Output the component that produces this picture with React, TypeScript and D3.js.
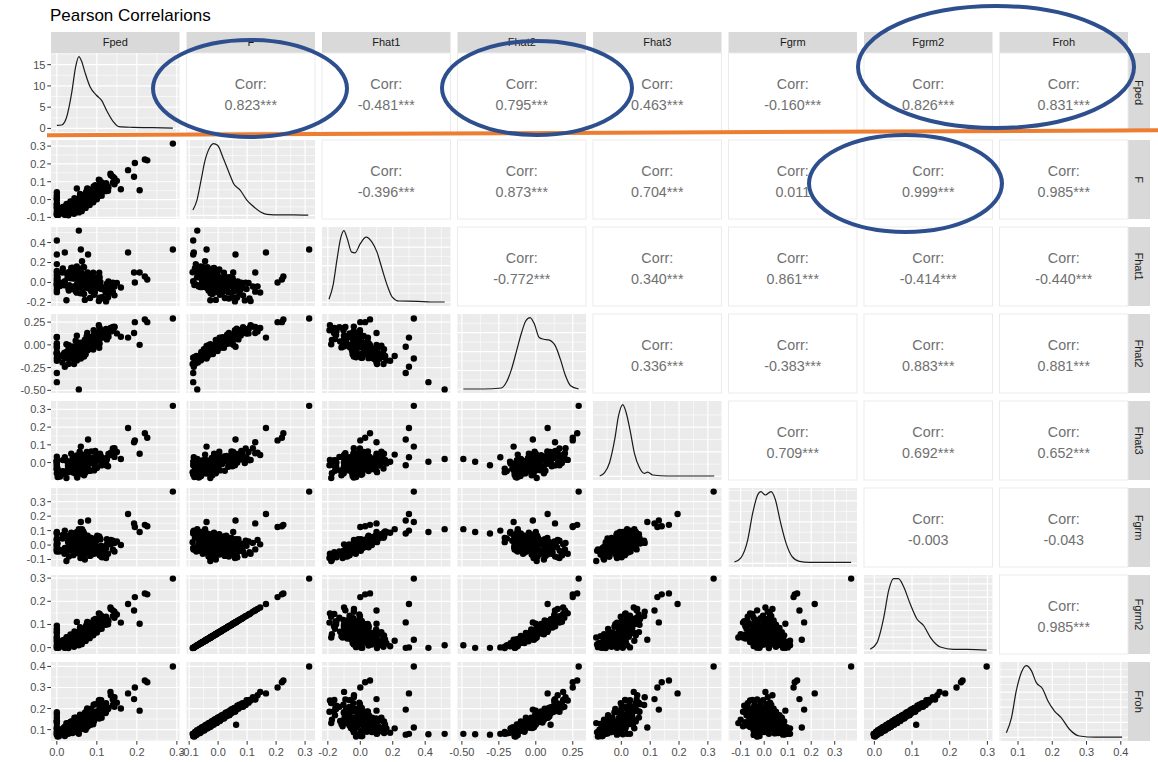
import React from 'react';
import * as d3 from 'd3';

// variables, in facet order
const vars = ['Fped', 'F', 'Fhat1', 'Fhat2', 'Fhat3', 'Fgrm', 'Fgrm2', 'Froh'];

// per-sample estimates (same sample order in every array)
const Fped = [
  0.029, 0.002, 0, 0.027, 0.014, 0.051, 0.002, 0.039, 0.050, 0.046,
  0.018, 0, 0.066, 0.042, 0.028, 0.064, 0.015, 0.051, 0.063, 0,
  0.059, 0.030, 0.077, 0.052, 0, 0.074, 0.025, 0.061, 0.072, 0.068,
  0.039, 0.085, 0.061, 0.047, 0.083, 0.034, 0.070, 0.081, 0.077, 0.048,
  0, 0.071, 0.057, 0.093, 0.044, 0.080, 0.092, 0, 0.060, 0.106,
  0.083, 0.070, 0.106, 0.058, 0.095, 0.107, 0, 0.075, 0.122, 0.099,
  0.086, 0.123, 0.076, 0.113, 0.125, 0.123, 0.096, 0.144, 0.123, 0.111,
  0.150, 0.105, 0.144, 0.140, 0.135, 0.134, 0.005, 0.063, 0.024, 0.072,
  0.29, 0.178, 0.195, 0.22, 0.226, 0.193, 0.16, 0.207, 0.055, 0, 0, 0.06, 0.078, 0.02, 0.05,
  0.020, 0.043, 0.006, 0.038, 0, 0.062, 0.008, 0.050, 0.041, 0.037,
  0.058, 0.019, 0.050, 0.031, 0.072, 0, 0.060, 0.051, 0.047, 0.068,
  0.029, 0.060, 0.041, 0.082, 0.028, 0.069, 0.059, 0.056, 0.077, 0,
  0.069, 0.050, 0.091, 0.036, 0.078, 0.069, 0.064, 0.085, 0.047, 0.078,
  0.059, 0.100, 0, 0.087, 0.079, 0.075, 0.096, 0.058, 0.089, 0.071,
  0.112, 0, 0.101, 0.093, 0.089, 0.111, 0.073, 0.104, 0.086, 0.128,
  0.075, 0.117, 0.109, 0.107, 0.129, 0.092, 0.125, 0.108, 0.140, 0.107,
];
const F = [
  -0.088, -0.082, -0.077, -0.073, -0.070, -0.067, -0.064, -0.062, -0.059, -0.057,
  -0.055, -0.052, -0.050, -0.048, -0.046, -0.044, -0.042, -0.040, -0.038, -0.036,
  -0.035, -0.033, -0.031, -0.030, -0.028, -0.026, -0.025, -0.023, -0.021, -0.020,
  -0.018, -0.016, -0.015, -0.013, -0.011, -0.010, -0.008, -0.006, -0.004, -0.002,
  0.000, 0.002, 0.004, 0.006, 0.008, 0.010, 0.013, 0.015, 0.018, 0.020,
  0.023, 0.026, 0.029, 0.032, 0.035, 0.038, 0.041, 0.044, 0.047, 0.050,
  0.054, 0.058, 0.062, 0.066, 0.070, 0.075, 0.080, 0.086, 0.092, 0.098,
  0.105, 0.112, 0.120, 0.128, 0.136, 0.145, -0.085, -0.045, -0.027, -0.005,
  0.314, 0.165, 0.205, 0.225, 0.22, 0.128, 0.058, 0.052, -0.072, -0.086, -0.086, -0.04, 0.06, -0.084, 0.062,
  -0.086, -0.080, -0.075, -0.071, -0.068, -0.065, -0.063, -0.060, -0.058, -0.056,
  -0.054, -0.053, -0.051, -0.049, -0.047, -0.045, -0.043, -0.041, -0.039, -0.037,
  -0.036, -0.034, -0.032, -0.031, -0.029, -0.027, -0.026, -0.024, -0.022, -0.021,
  -0.019, -0.017, -0.015, -0.014, -0.012, -0.010, -0.009, -0.007, -0.005, -0.003,
  -0.001, 0.001, 0.003, 0.005, 0.007, 0.009, 0.011, 0.014, 0.016, 0.019,
  0.022, 0.025, 0.028, 0.031, 0.034, 0.037, 0.040, 0.043, 0.046, 0.049,
  0.052, 0.056, 0.060, 0.064, 0.068, 0.073, 0.078, 0.084, 0.095, 0.108,
];
const Fhat1 = [
  0.103, -0.026, 0.184, 0.051, 0.100, -0.040, 0.053, 0.147, -0.047, 0.089,
  0.003, 0.021, 0.153, -0.039, 0.085, -0.019, 0.140, -0.029, 0.073, -0.036,
  0.044, -0.080, 0.064, 0.021, 0.099, -0.054, 0.093, -0.016, 0.040, -0.116,
  0.141, -0.005, 0.029, 0.055, -0.068, 0.041, -0.175, 0.059, 0.010, 0.074,
  -0.073, -0.001, 0.130, -0.124, 0.043, -0.014, 0.042, -0.097, 0.012, 0.098,
  -0.156, 0.002, -0.017, 0.023, -0.101, 0.052, -0.020, -0.026, -0.101, 0.045,
  -0.087, -0.190, -0.037, -0.147, -0.012, -0.065, -0.003, -0.129, -0.180, -0.066,
  -0.006, -0.187, -0.040, -0.092, -0.039, -0.100, 0.006, 0.212, -0.179, 0.081,
  0.33, 0.30, 0.0, 0.06, 0.03, 0.10, -0.05, 0.10, 0.52, 0.42, 0.28, 0.33, 0.28, 0.30, -0.02,
  0.012, 0.143, -0.023, 0.118, 0.071, 0.094, -0.035, 0.161, 0.040, 0.094,
  0.025, -0.028, 0.131, -0.028, 0.026, 0.115, -0.049, 0.032, 0.046, 0.152,
  -0.058, 0.063, -0.066, 0.034, 0.070, 0.024, -0.109, 0.024, 0.101, -0.012,
  0.011, -0.102, 0.099, 0.146, -0.043, 0.034, -0.095, 0.079, -0.087, 0.054,
  0.116, -0.058, 0.041, -0.081, 0.003, 0.047, -0.044, 0.032, -0.045, 0.046,
  -0.046, 0.000, 0.051, -0.064, -0.010, -0.162, 0.011, -0.036, 0.047, -0.149,
  0.021, -0.069, 0.004, -0.153, 0.009, -0.104, -0.069, -0.043, -0.002, -0.160,
];
const Fhat2 = [
  -0.210, -0.136, -0.174, -0.146, -0.195, -0.128, -0.121, -0.127, -0.104, -0.159,
  -0.103, -0.090, -0.123, -0.075, -0.133, -0.098, -0.112, -0.013, -0.106, -0.083,
  -0.095, -0.004, -0.058, -0.063, -0.103, -0.045, -0.076, -0.001, -0.052, -0.028,
  -0.101, -0.001, -0.010, -0.061, -0.020, -0.044, 0.055, 0.001, -0.008, -0.067,
  0.001, 0.014, -0.008, 0.037, -0.031, 0.013, 0.009, 0.083, 0.013, -0.031,
  0.065, 0.052, 0.092, 0.024, 0.054, 0.015, 0.086, 0.092, 0.102, 0.036,
  0.088, 0.160, 0.132, 0.149, 0.060, 0.113, 0.132, 0.193, 0.176, 0.125,
  0.126, 0.216, 0.201, 0.197, 0.148, 0.185, -0.143, -0.122, 0.006, -0.066,
  0.29, 0.08, 0.25, 0.28, 0.25, 0.13, 0.09, 0.0, -0.49, -0.41, -0.31, -0.15, -0.02, -0.24, 0.10,
  -0.141, -0.210, -0.122, -0.152, -0.144, -0.126, -0.122, -0.171, -0.077, -0.143,
  -0.094, -0.086, -0.134, -0.049, -0.103, -0.093, -0.072, -0.093, -0.041, -0.128,
  -0.024, -0.105, -0.018, -0.034, -0.097, -0.021, -0.015, -0.057, -0.050, -0.031,
  -0.015, -0.018, -0.052, -0.047, -0.020, -0.013, 0.012, -0.043, 0.045, -0.024,
  -0.024, -0.003, -0.016, 0.078, -0.001, 0.003, 0.027, 0.013, 0.064, -0.004,
  0.079, 0.017, 0.009, 0.113, 0.048, 0.131, 0.030, 0.085, 0.078, 0.108,
  0.098, 0.091, 0.075, 0.177, 0.089, 0.162, 0.102, 0.143, 0.160, 0.185,
];
const Fhat3 = [
  -0.054, -0.081, 0.005, -0.048, -0.048, -0.084, -0.034, 0.010, -0.076, -0.035,
  -0.050, -0.035, 0.015, -0.057, -0.024, -0.059, 0.014, -0.021, -0.017, -0.060,
  -0.026, -0.042, 0.003, -0.021, -0.002, -0.050, 0.009, -0.009, -0.006, -0.072,
  0.020, -0.003, 0.010, -0.003, -0.044, -0.002, -0.060, 0.030, 0.001, 0.004,
  -0.036, 0.007, 0.061, -0.044, 0.006, -0.001, 0.026, -0.007, 0.013, 0.034,
  -0.046, 0.027, 0.038, 0.024, -0.024, 0.034, 0.033, 0.033, 0.001, 0.041,
  0.001, -0.015, 0.048, 0.001, 0.024, 0.024, 0.065, 0.032, -0.002, 0.030,
  0.060, 0.015, 0.081, 0.053, 0.055, 0.043, -0.069, 0.045, -0.087, 0.008,
  0.32, 0.195, 0.125, 0.165, 0.14, 0.115, 0.02, 0.05, 0.02, 0.005, -0.015, 0.09, 0.13, 0.03, 0.04,
  -0.065, -0.034, -0.073, -0.017, -0.037, -0.016, -0.079, -0.005, -0.019, -0.025,
  -0.035, -0.057, -0.002, -0.039, -0.039, 0.011, -0.061, -0.031, 0.003, 0.012,
  -0.041, -0.021, -0.042, 0.000, -0.014, 0.002, -0.062, -0.017, 0.026, -0.022,
  -0.002, -0.060, 0.024, 0.050, -0.032, 0.011, -0.042, 0.018, -0.021, 0.015,
  0.046, -0.031, 0.013, -0.002, 0.001, 0.025, -0.009, 0.023, 0.010, 0.021,
  0.017, 0.009, 0.030, 0.025, 0.019, -0.016, 0.021, 0.025, 0.063, -0.021,
  0.060, 0.011, 0.040, 0.012, 0.049, 0.029, 0.017, 0.050, 0.079, 0.013,
];
const Fgrm = [
  0.020, -0.030, 0.085, -0.015, 0.045, -0.040, 0.010, 0.060, -0.035, 0.030,
  -0.040, 0.000, 0.095, -0.045, 0.025, -0.010, 0.070, -0.055, 0.040, -0.025,
  0.015, -0.080, 0.050, -0.005, 0.035, -0.040, 0.065, -0.020, 0.005, -0.065,
  0.080, -0.030, 0.020, 0.045, -0.050, 0.010, -0.100, 0.030, -0.015, 0.055,
  -0.035, 0.000, 0.075, -0.060, 0.025, -0.025, 0.040, -0.045, 0.015, 0.060,
  -0.075, 0.005, -0.020, 0.035, -0.040, 0.050, -0.010, 0.020, -0.055, 0.030,
  -0.030, -0.090, 0.000, -0.085, 0.040, -0.020, 0.010, -0.045, -0.070, -0.005,
  0.025, -0.060, 0.015, -0.030, 0.035, 0.005, -0.030, 0.110, -0.110, 0.045,
  0.37, 0.215, 0.125, 0.14, 0.13, 0.15, 0.0, 0.09, 0.11, 0.09, 0.08, 0.16, 0.17, 0.10, 0.01,
  -0.020, 0.050, -0.045, 0.070, 0.000, 0.030, -0.035, 0.090, -0.010, 0.040,
  0.015, -0.060, 0.060, -0.025, 0.005, 0.045, -0.050, 0.025, -0.005, 0.080,
  -0.040, 0.035, -0.070, 0.010, 0.055, -0.015, -0.090, 0.020, 0.065, -0.030,
  0.000, -0.055, 0.040, 0.085, -0.020, 0.025, -0.080, 0.050, -0.040, 0.015,
  0.070, -0.025, 0.035, -0.065, 0.005, 0.055, -0.045, 0.020, -0.010, 0.045,
  -0.035, 0.010, 0.065, -0.050, 0.000, -0.080, 0.030, -0.020, 0.050, -0.060,
  0.015, -0.030, 0.040, -0.070, 0.020, -0.040, 0.005, -0.015, 0.030, -0.050,
];
const Fgrm2 = [
  -0.002, 0.002, 0.006, 0.009, 0.011, 0.014, 0.016, 0.017, 0.020, 0.021,
  0.023, 0.025, 0.026, 0.028, 0.029, 0.031, 0.032, 0.034, 0.035, 0.037,
  0.038, 0.039, 0.041, 0.041, 0.043, 0.044, 0.045, 0.047, 0.048, 0.049,
  0.050, 0.052, 0.053, 0.054, 0.056, 0.057, 0.058, 0.060, 0.061, 0.063,
  0.064, 0.066, 0.067, 0.069, 0.070, 0.072, 0.074, 0.075, 0.078, 0.079,
  0.081, 0.084, 0.086, 0.088, 0.090, 0.093, 0.095, 0.097, 0.099, 0.102,
  0.105, 0.108, 0.111, 0.114, 0.117, 0.121, 0.124, 0.129, 0.133, 0.138,
  0.143, 0.148, 0.155, 0.161, 0.167, 0.173, 0.000, 0.030, 0.044, 0.060,
  0.298, 0.188, 0.218, 0.234, 0.230, 0.160, 0.108, 0.103, 0.010, -0.001, -0.001, 0.034, 0.109, 0.001, 0.111,
  -0.001, 0.004, 0.007, 0.011, 0.013, 0.015, 0.017, 0.019, 0.020, 0.022,
  0.023, 0.024, 0.026, 0.027, 0.029, 0.030, 0.032, 0.033, 0.035, 0.036,
  0.037, 0.038, 0.040, 0.041, 0.042, 0.044, 0.044, 0.046, 0.047, 0.048,
  0.050, 0.051, 0.053, 0.053, 0.055, 0.057, 0.057, 0.059, 0.060, 0.062,
  0.063, 0.065, 0.066, 0.068, 0.069, 0.071, 0.072, 0.075, 0.076, 0.078,
  0.081, 0.083, 0.085, 0.087, 0.090, 0.092, 0.094, 0.096, 0.099, 0.101,
  0.103, 0.106, 0.109, 0.112, 0.115, 0.119, 0.123, 0.127, 0.136, 0.145,
];
const Froh = [
  0.080, 0.067, 0.085, 0.097, 0.082, 0.088, 0.101, 0.084, 0.100, 0.110,
  0.094, 0.100, 0.112, 0.096, 0.111, 0.121, 0.105, 0.111, 0.122, 0.106,
  0.120, 0.130, 0.114, 0.119, 0.131, 0.114, 0.128, 0.139, 0.122, 0.127,
  0.139, 0.123, 0.137, 0.147, 0.131, 0.136, 0.147, 0.131, 0.146, 0.156,
  0.140, 0.146, 0.157, 0.141, 0.156, 0.166, 0.151, 0.157, 0.169, 0.153,
  0.168, 0.180, 0.164, 0.171, 0.183, 0.168, 0.183, 0.195, 0.179, 0.186,
  0.199, 0.185, 0.201, 0.213, 0.199, 0.207, 0.221, 0.208, 0.226, 0.240,
  0.228, 0.238, 0.254, 0.243, 0.263, 0.279, 0.069, 0.106, 0.131, 0.132,
  0.40, 0.272, 0.30, 0.333, 0.325, 0.245, 0.20, 0.19, 0.08, 0.078, 0.076, 0.11, 0.195, 0.08, 0.123,
  0.070, 0.089, 0.075, 0.092, 0.089, 0.103, 0.089, 0.106, 0.090, 0.104,
  0.101, 0.113, 0.099, 0.115, 0.099, 0.113, 0.110, 0.123, 0.109, 0.125,
  0.108, 0.123, 0.119, 0.131, 0.118, 0.133, 0.116, 0.131, 0.128, 0.139,
  0.126, 0.142, 0.126, 0.139, 0.136, 0.149, 0.135, 0.150, 0.134, 0.149,
  0.145, 0.158, 0.145, 0.160, 0.144, 0.159, 0.155, 0.169, 0.155, 0.172,
  0.156, 0.172, 0.169, 0.183, 0.170, 0.187, 0.171, 0.187, 0.185, 0.198,
  0.186, 0.203, 0.188, 0.205, 0.203, 0.218, 0.207, 0.226, 0.217, 0.241,
];
const columns = [Fped, F, Fhat1, Fhat2, Fhat3, Fgrm, Fgrm2, Froh];

// data range of each variable (scales add 5% either side, as ggplot does)
const dataRange: [number, number][] = [
  [0, 0.292], [-0.089, 0.314], [-0.2, 0.52], [-0.49, 0.30],
  [-0.078, 0.327], [-0.127, 0.37], [-0.012, 0.298], [0.063, 0.404],
];

const tickValues = [
  [0, 0.1, 0.2, 0.3],
  [-0.1, 0, 0.1, 0.2, 0.3],
  [-0.2, 0, 0.2, 0.4],
  [-0.5, -0.25, 0, 0.25],
  [0, 0.1, 0.2, 0.3],
  [-0.1, 0, 0.1, 0.2, 0.3],
  [0, 0.1, 0.2, 0.3],
  [0.1, 0.2, 0.3, 0.4],
];
const tickLabels = [
  ['0.0', '0.1', '0.2', '0.3'],
  ['-0.1', '0.0', '0.1', '0.2', '0.3'],
  ['-0.2', '0.0', '0.2', '0.4'],
  ['-0.50', '-0.25', '0.00', '0.25'],
  ['0.0', '0.1', '0.2', '0.3'],
  ['-0.1', '0.0', '0.1', '0.2', '0.3'],
  ['0.0', '0.1', '0.2', '0.3'],
  ['0.1', '0.2', '0.3', '0.4'],
];
const densityTicks = [0, 5, 10, 15];
const densityLabels = ['0', '5', '10', '15'];

// density curves: [value, height]
const densFped: [number, number][] = [
  [0, 0.7], [0.012, 0.8], [0.024, 2.5], [0.037, 8.3], [0.047, 14.5], [0.055, 16.9], [0.062, 15.8],
  [0.07, 13.3], [0.083, 9.8], [0.099, 7.8], [0.112, 6.6], [0.124, 4.3], [0.141, 1.6], [0.155, 0.4],
  [0.19, 0.25], [0.232, 0.18], [0.29, 0.05],
];
const densF: [number, number][] = [
  [-0.087, 5.4], [-0.073, 15.4], [-0.06, 33.7], [-0.045, 55.4], [-0.028, 68.7], [-0.016, 72.1],
  [-0.002, 70.4], [0.018, 57.1], [0.041, 40.4], [0.053, 32.1], [0.076, 25.4], [0.099, 15.4],
  [0.116, 10.4], [0.145, 3.7], [0.168, 1.1], [0.214, 0.6], [0.26, 0.6], [0.311, 0.2],
];
const densFhat1: [number, number][] = [
  [-0.193, 3.1], [-0.168, 17], [-0.143, 43.7], [-0.122, 63.7], [-0.101, 72], [-0.08, 63.7],
  [-0.053, 50.4], [-0.032, 49.7], [-0.001, 58.7], [0.036, 65.4], [0.072, 60.4], [0.103, 50.4],
  [0.134, 33.7], [0.166, 17.1], [0.197, 5.4], [0.239, 1.4], [0.353, 1.1], [0.436, 0.4], [0.52, 0.4],
];
const densFhat2: [number, number][] = [
  [-0.49, 0.4], [-0.347, 0.4], [-0.233, 1.4], [-0.199, 7.1], [-0.164, 20.4], [-0.13, 38.7],
  [-0.096, 57.1], [-0.068, 68.7], [-0.039, 72.1], [-0.009, 65.4], [0.023, 52.1], [0.053, 50.4],
  [0.087, 49.7], [0.132, 43.7], [0.166, 30.4], [0.201, 13.7], [0.235, 3.7], [0.29, 0.4],
];
const densFhat3: [number, number][] = [
  [-0.075, 0.4], [-0.058, 3.7], [-0.041, 13.7], [-0.023, 37.1], [-0.01, 60.4], [0.005, 72.1],
  [0.017, 63.7], [0.032, 43.7], [0.045, 23.7], [0.063, 8.7], [0.08, 3.1], [0.091, 4.4],
  [0.109, 1.4], [0.16, 0.4], [0.322, 0.4],
];
const densFgrm: [number, number][] = [
  [-0.127, 1.4], [-0.1, 5.4], [-0.07, 23.7], [-0.049, 50.4], [-0.028, 68.7], [-0.014, 72.1],
  [0.005, 68.7], [0.029, 72.1], [0.048, 63.7], [0.067, 43.7], [0.093, 20.4], [0.118, 7.1],
  [0.15, 2.1], [0.192, 1.1], [0.37, 1.1],
];
const densFgrm2: [number, number][] = [
  [-0.011, 1.1], [0.007, 7.7], [0.025, 32.7], [0.038, 59.4], [0.051, 71.1], [0.064, 71.1],
  [0.078, 62.7], [0.095, 46.1], [0.113, 31.1], [0.131, 24.4], [0.149, 12.7], [0.175, 3.4],
  [0.21, 1.1], [0.246, 1.1], [0.298, 0.3],
];
const densFroh: [number, number][] = [
  [0.066, 4.7], [0.081, 19.7], [0.095, 46.4], [0.11, 64.7], [0.124, 71.4], [0.139, 66.4],
  [0.153, 54.7], [0.172, 48.1], [0.187, 36.4], [0.206, 26.4], [0.226, 19.7], [0.25, 8.1],
  [0.279, 1.4], [0.327, 0.2], [0.404, 0.2],
];
const densities = [densFped, densF, densFhat1, densFhat2, densFhat3, densFgrm, densFgrm2, densFroh];
const densityPeaks = [16.9, 8.4, 3.9, 3.8, 14.6, 6.9, 10.8, 9.5];

// upper triangle, row by row
const corrText = [
  ['0.823***', '-0.481***', '0.795***', '0.463***', '-0.160***', '0.826***', '0.831***'],
  ['-0.396***', '0.873***', '0.704***', '0.011', '0.999***', '0.985***'],
  ['-0.772***', '0.340***', '0.861***', '-0.414***', '-0.440***'],
  ['0.336***', '-0.383***', '0.883***', '0.881***'],
  ['0.709***', '0.692***', '0.652***'],
  ['-0.003', '-0.043'],
  ['0.985***'],
];

// hand-drawn highlights on top of the figure
const ellipses = [
  { cx: 250, cy: 88.5, rx: 97, ry: 48.5 },
  { cx: 537, cy: 88, rx: 95, ry: 47 },
  { cx: 996, cy: 67, rx: 138, ry: 61 },
  { cx: 905.5, cy: 183.5, rx: 96.5, ry: 48.5 },
];

const W = 1158;
const H = 762;
const left = 51;
const top = 53;
const pw = 128.5;
const ph = 79;
const colStep = 135.5;
const rowStep = 87;
const font = '"Liberation Sans", Arial, Helvetica, sans-serif';

const expand = ([lo, hi]: [number, number]): [number, number] => {
  const d = (hi - lo) * 0.05;
  return [lo - d, hi + d];
};

const minors = (major: number[], domain: [number, number]) => {
  const step = major[1] - major[0];
  const out: number[] = [];
  for (let k = -1; k < major.length; k++) {
    const v = major[0] + step * (k + 0.5);
    if (v >= domain[0] && v <= domain[1]) out.push(v);
  }
  return out;
};

const App: React.FC = () => {
  const xScales = vars.map((_, i) =>
    d3.scaleLinear().domain(expand(dataRange[i])).range([left + i * colStep, left + i * colStep + pw])
  );
  const yScales = vars.map((_, i) =>
    d3.scaleLinear().domain(expand(dataRange[i])).range([top + i * rowStep + ph, top + i * rowStep])
  );
  const densScales = vars.map((_, i) =>
    d3.scaleLinear()
      .domain([-0.05 * densityPeaks[i], 1.05 * densityPeaks[i]])
      .range([top + i * rowStep + ph, top + i * rowStep])
  );

  const panels: React.ReactNode[] = [];

  for (let r = 0; r < vars.length; r++) {
    for (let c = 0; c < vars.length; c++) {
      const px = left + c * colStep;
      const py = top + r * rowStep;
      const key = `${r}-${c}`;

      if (c > r) {
        panels.push(
          <g key={key}>
            <rect x={px} y={py} width={pw} height={ph} fill="#ffffff" stroke="#ebebeb" strokeWidth={1} />
            <text x={px + pw / 2} y={py + ph / 2 - 3.5} textAnchor="middle" fontSize={14.3} fill="#707070">
              Corr:
            </text>
            <text x={px + pw / 2} y={py + ph / 2 + 17.5} textAnchor="middle" fontSize={14.3} fill="#707070">
              {corrText[r][c - r - 1]}
            </text>
          </g>
        );
        continue;
      }

      const xs = xScales[c];
      const ys = r === c ? densScales[r] : yScales[r];
      const xDom = xs.domain() as [number, number];
      const yDom = ys.domain() as [number, number];
      const xMajor = tickValues[c].filter((v) => v >= xDom[0] && v <= xDom[1]);
      const yMajorAll = r === c ? d3.ticks(0, densityPeaks[r], 4) : tickValues[r];
      const yMajor = yMajorAll.filter((v) => v >= yDom[0] && v <= yDom[1]);
      const xMinor = minors(tickValues[c], xDom);
      const yMinor = minors(yMajorAll, yDom);

      let content: React.ReactNode;
      if (r === c) {
        const dens = densities[r];
        const hMax = d3.max(dens, (d) => d[1]) as number;
        const line = d3
          .line<[number, number]>()
          .x((d) => xs(d[0]))
          .y((d) => ys((d[1] / hMax) * densityPeaks[r]))
          .curve(d3.curveMonotoneX);
        content = <path d={line(dens) || ''} fill="none" stroke="#1a1a1a" strokeWidth={1.2} />;
      } else {
        const xv = columns[c];
        const yv = columns[r];
        content = (
          <g>
            {xv.map((v, i) => (
              <circle key={i} cx={xs(v)} cy={ys(yv[i])} r={3.2} fill="#000000" />
            ))}
          </g>
        );
      }

      panels.push(
        <g key={key}>
          <rect x={px} y={py} width={pw} height={ph} fill="#ebebeb" />
          {xMinor.map((v) => (
            <line key={`xm${v}`} x1={xs(v)} x2={xs(v)} y1={py} y2={py + ph} stroke="#ffffff" strokeWidth={0.6} />
          ))}
          {yMinor.map((v) => (
            <line key={`ym${v}`} x1={px} x2={px + pw} y1={ys(v)} y2={ys(v)} stroke="#ffffff" strokeWidth={0.6} />
          ))}
          {xMajor.map((v) => (
            <line key={`x${v}`} x1={xs(v)} x2={xs(v)} y1={py} y2={py + ph} stroke="#ffffff" strokeWidth={1.2} />
          ))}
          {yMajor.map((v) => (
            <line key={`y${v}`} x1={px} x2={px + pw} y1={ys(v)} y2={ys(v)} stroke="#ffffff" strokeWidth={1.2} />
          ))}
          {content}
        </g>
      );
    }
  }

  const bottom = top + 7 * rowStep + ph;

  // bottom axes
  const xAxes = vars.map((_, c) => {
    const xs = xScales[c];
    const dom = xs.domain();
    return (
      <g key={`xa${c}`}>
        {tickValues[c].map((v, k) =>
          v >= dom[0] && v <= dom[1] ? (
            <g key={k}>
              <line x1={xs(v)} x2={xs(v)} y1={bottom} y2={bottom + 3.7} stroke="#333333" strokeWidth={1} />
              <text x={xs(v)} y={bottom + 14.5} textAnchor="middle" fontSize={11} fill="#4d4d4d">
                {tickLabels[c][k]}
              </text>
            </g>
          ) : null
        )}
      </g>
    );
  });

  // left axes: density for the first row, the variable for the others
  const yAxes = vars.map((_, r) => {
    const ys = r === 0 ? densScales[0] : yScales[r];
    const vals = r === 0 ? densityTicks : tickValues[r];
    const labs = r === 0 ? densityLabels : tickLabels[r];
    const dom = ys.domain();
    return (
      <g key={`ya${r}`}>
        {vals.map((v, k) =>
          v >= dom[0] && v <= dom[1] ? (
            <g key={k}>
              <line x1={left - 3.7} x2={left} y1={ys(v)} y2={ys(v)} stroke="#333333" strokeWidth={1} />
              <text x={left - 5.5} y={ys(v)} dy="0.36em" textAnchor="end" fontSize={11} fill="#4d4d4d">
                {labs[k]}
              </text>
            </g>
          ) : null
        )}
      </g>
    );
  });

  const topStrips = vars.map((v, c) => (
    <g key={`ts${c}`}>
      <rect x={left + c * colStep} y={32} width={pw} height={21} fill="#d9d9d9" />
      <text x={left + c * colStep + pw / 2} y={42.5} dy="0.36em" textAnchor="middle" fontSize={11} fill="#1a1a1a">
        {v}
      </text>
    </g>
  ));

  const sx = left + 7 * colStep + pw;
  const rightStrips = vars.map((v, r) => {
    const cy = top + r * rowStep + ph / 2;
    return (
      <g key={`rs${r}`}>
        <rect x={sx} y={top + r * rowStep} width={22} height={ph} fill="#d9d9d9" />
        <text
          x={sx + 11}
          y={cy}
          dy="0.36em"
          textAnchor="middle"
          fontSize={11}
          fill="#1a1a1a"
          transform={`rotate(90 ${sx + 11} ${cy})`}
        >
          {v}
        </text>
      </g>
    );
  });

  return (
    <div style={{ position: 'absolute', left: 0, top: 0 }}>
      <svg width={W} height={H} style={{ display: 'block', fontFamily: font }}>
        <rect x={0} y={0} width={W} height={H} fill="#ffffff" />
        <text x={50} y={21} fontSize={17} fill="#000000">
          Pearson Correlarions
        </text>
        {topStrips}
        {rightStrips}
        {panels}
        {xAxes}
        {yAxes}
        <line x1={47} y1={135.3} x2={W} y2={130.3} stroke="#ed7d31" strokeWidth={4} />
        {ellipses.map((e, i) => (
          <ellipse key={i} cx={e.cx} cy={e.cy} rx={e.rx} ry={e.ry} fill="none" stroke="#2e4f8e" strokeWidth={4} />
        ))}
      </svg>
    </div>
  );
};

export default App;
